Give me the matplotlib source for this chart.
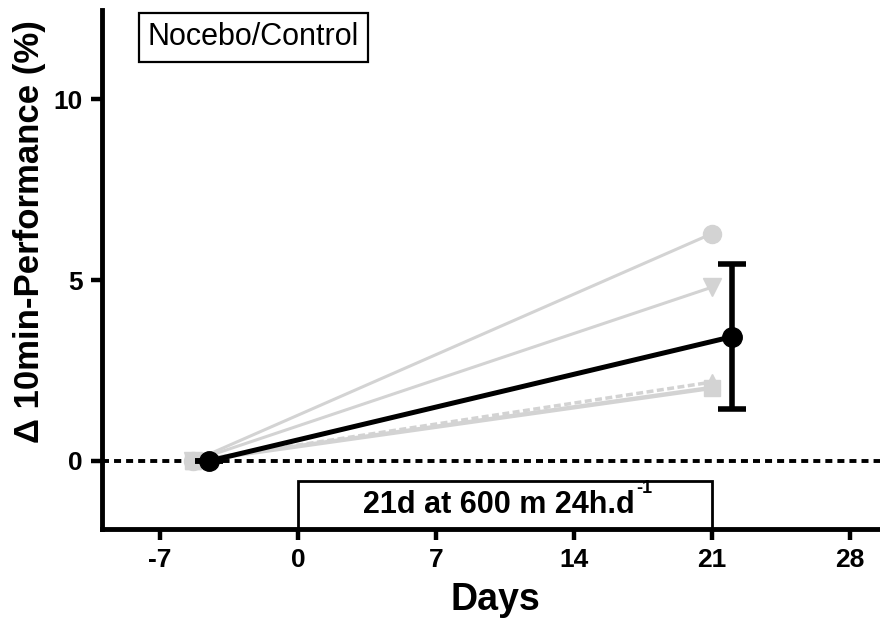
import matplotlib
matplotlib.use("Agg")
import matplotlib.pyplot as plt
from matplotlib.patches import Rectangle

plt.rcParams["font.family"] = ["Liberation Sans", "DejaVu Sans"]
plt.rcParams["axes.unicode_minus"] = False

# individual subjects (grey), pre vs. end of the 21 days
subj_days = [-5.3, 21]
subj_circle = [0.0, 6.28]
subj_triangle = [0.0, 4.8]
subj_square = [0.0, 2.02]
subj_dash = [0.0, 2.18]

# group mean with SD (black)
mean_days = [-4.5, 22]
mean_vals = [0.0, 3.43]
mean_sd = [0.0, 2.0]

x_ticks = [-7, 0, 7, 14, 21, 28]
y_ticks = [0, 5, 10]

grey = "#d3d3d3"

fig = plt.figure(figsize=(8.8, 6.36), dpi=100)
ax = fig.add_axes([0.1159, 0.1682, 0.8841, 0.8161])

ax.axhline(0, color="black", lw=2.8, ls=(0, (1.8, 1.3)), zorder=1)

ax.plot(subj_days, subj_circle, color=grey, lw=2.2, marker="o", ms=13, zorder=2)
ax.plot(subj_days, subj_triangle, color=grey, lw=2.2, marker="v", ms=13, zorder=2)
ax.plot(subj_days, subj_dash, color=grey, lw=2.5, ls=(0, (2, 1)), marker="^", ms=12, zorder=2)
ax.plot(subj_days, subj_square, color=grey, lw=3.2, marker="s", ms=12, zorder=2)

ax.errorbar(mean_days, mean_vals, yerr=mean_sd, color="black", lw=3.6, marker="o", ms=14,
            capsize=10, capthick=4, elinewidth=4, zorder=3)

ax.set_xlim(-9.94, 29.53)
ax.set_ylim(-1.88, 12.46)
ax.set_xticks(x_ticks)
ax.set_yticks(y_ticks)
ax.tick_params(direction="out", length=8, width=3.2, labelsize=19, pad=6)
for lab in ax.get_xticklabels() + ax.get_yticklabels():
    lab.set_fontweight("bold")

for side in ["top", "right"]:
    ax.spines[side].set_visible(False)
for side in ["left", "bottom"]:
    ax.spines[side].set_linewidth(3.5)

ax.set_xlabel("Days", fontsize=27, fontweight="bold")
ax.xaxis.set_label_coords(0.506, -0.102)
ax.set_ylabel("\u0394 10min-Performance (%)", fontsize=25, fontweight="bold")
ax.yaxis.set_label_coords(-0.072, 0.573)

# hypoxic period box
box_top = -0.55
ax.add_patch(Rectangle((0, -1.88), 21, box_top + 1.88, fill=False, edgecolor="black", lw=2,
                       clip_on=False, zorder=4))
main = ax.text(10.2, (box_top - 1.88) / 2, "21d at 600 m 24h.d", ha="center",
               va="center", fontsize=22, fontweight="bold")
fig.canvas.draw()
bb = main.get_window_extent()
ax.annotate("-1", xy=(bb.x1, bb.y1), xycoords="figure pixels", xytext=(1, -5),
            textcoords="offset points", ha="left", va="bottom", fontsize=13, fontweight="bold")

ax.text(0.059, 0.947, "Nocebo/Control", transform=ax.transAxes, ha="left", va="center",
        fontsize=22, bbox=dict(boxstyle="square,pad=0.3", fc="white", ec="black", lw=1.6))

fig.savefig("out.png", dpi=100)
